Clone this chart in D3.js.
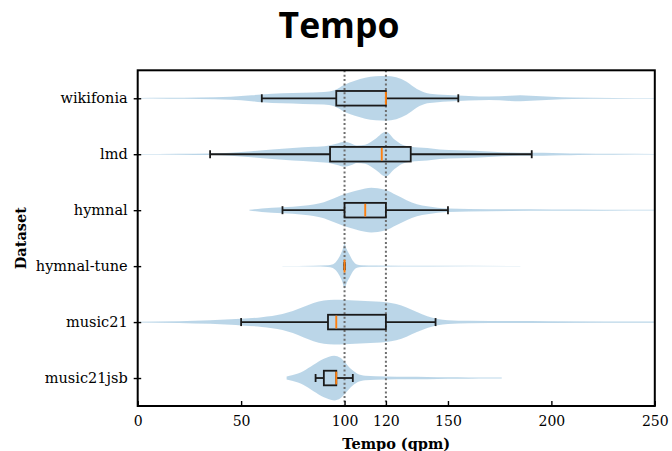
<!DOCTYPE html>
<html>
<head>
<meta charset="utf-8">
<script src="https://cdn.jsdelivr.net/npm/d3@7"></script>
<style>
  html, body { margin: 0; padding: 0; background: #fff; }
  svg { display: block; }
</style>
</head>
<body>
<svg id="chart" width="672" height="451"></svg>
<script>
// Datasets, top to bottom
const datasets = ["wikifonia", "lmd", "hymnal", "hymnal-tune", "music21", "music21jsb"];

// Box-plot statistics (qpm), same order as datasets
const whiskerLow  = [60, 35, 70, 100, 50, 86];
const quartile1   = [96, 93, 100, 100, 92, 90];
const medians     = [120, 118, 110, 100, 96, 96];
const quartile3   = [120, 132, 120, 100, 120, 96];
const whiskerHigh = [155, 190.5, 150, 100, 144, 104];

// Violin outlines: [tempo, relative density]
const densityWikifonia = [[0,0.3],[15,0.5],[30,0.8],[45,1.5],[55,3],[60,4],[70,5.2],[80,5.8],[90,6.5],[95,8.3],[100,14],[105,18],[110,21],[115,22.6],[120,23],[125,21.5],[130,17],[135,9.5],[140,5.2],[145,4],[150,3.4],[160,2.4],[170,1.8],[180,2.7],[185,3.1],[190,2.6],[200,1.5],[210,0.8],[230,0.4],[250,0.3]];
const densityLmd = [[0,0.2],[20,0.4],[35,0.8],[45,1.5],[55,3],[65,4.8],[75,6.3],[85,7.4],[92,8.5],[96,10.5],[100,12.5],[103,11],[106,8.7],[110,9.5],[115,15.5],[120,22.3],[124,15],[128,9.5],[132,7.5],[140,6.3],[146,4.8],[155,4],[163,3.4],[172,2.5],[180,1.8],[190,1.5],[196,1.4],[205,1],[213,0.7],[230,0.4],[250,0.3]];
const densityHymnal = [[54,0.3],[60,1.7],[70,3],[80,4.5],[90,8],[95,12],[100,16],[105,19],[110,21.5],[113,22.3],[116,21.8],[120,20],[125,15],[130,10],[135,6],[140,4],[145,2.5],[150,1.7],[160,1.2],[180,0.8],[200,0.6],[225,0.45],[250,0.4]];
const densityHymnalTune = [[70,0.2],[85,0.4],[92,0.8],[94,1.5],[96,4.7],[97.6,9.7],[99,16],[100,22.3],[101,17],[102.5,11],[104,5.3],[106,1.5],[108,0.8],[115,0.5],[140,0.3],[185,0.15]];
const densityMusic21 = [[0,0.3],[20,0.8],[35,1.7],[45,2.7],[50,3.3],[60,4.8],[70,8],[75,11],[80,15],[85,19],[90,21.5],[95,22.3],[100,22],[110,21],[120,19.8],[125,18],[130,14.5],[135,10],[140,5.9],[145,3.1],[150,1.8],[160,1.2],[180,1],[200,0.8],[250,0.6]];
const densityMusic21jsb = [[72,1.5],[75,3],[80,6.7],[85,13],[90,19],[95,22],[98,20],[100,16],[103,9],[106,4.5],[110,2.3],[120,1.5],[130,1.3],[140,1.1],[150,0.8],[160,0.6],[170,0.5],[176,0.5]];
const densities = [densityWikifonia, densityLmd, densityHymnal, densityHymnalTune, densityMusic21, densityMusic21jsb];

// Axis ticks and reference tempo lines
const tempoTicks = [0, 50, 100, 120, 150, 200, 250];
const refTempos = [100, 120];

const svg = d3.select("#chart");
const plot = { left: 137.7, right: 654.8, top: 70.3, bottom: 406 };

const x = d3.scaleLinear().domain([0, 250]).range([plot.left, plot.right]);
const y = d3.scalePoint().domain(datasets).range([plot.top, plot.bottom]).padding(0.5);
const halfViolin = 0.4 * y.step();
const halfBox = 7.3;
const capHalf = 4;

const serif = "'DejaVu Serif', serif";

// Title
svg.append("text")
  .attr("x", 339).attr("y", 38)
  .attr("text-anchor", "middle")
  .style("font-family", "'Open Sans', sans-serif")
  .style("font-weight", "700")
  .style("font-size", "35.5px")
  .text("Tempo");

// Violins
const violins = svg.append("g").attr("class", "violins");
datasets.forEach((name, i) => {
  const prof = densities[i];
  const w = d3.scaleLinear().domain([0, d3.max(prof, d => d[1])]).range([0, halfViolin]);
  const cy = y(name);
  const area = d3.area()
    .x(d => x(d[0]))
    .y0(d => cy - w(d[1]))
    .y1(d => cy + w(d[1]))
    .curve(d3.curveMonotoneX);
  violins.append("path")
    .datum(prof)
    .attr("d", area)
    .attr("fill", "#1f77b4")
    .attr("fill-opacity", 0.3);
});

// Reference tempo lines
svg.append("g").selectAll("line")
  .data(refTempos)
  .join("line")
  .attr("x1", d => x(d)).attr("x2", d => x(d))
  .attr("y1", plot.top).attr("y2", plot.bottom)
  .attr("stroke", "#6e6e6e")
  .attr("stroke-width", 2)
  .attr("stroke-dasharray", "2,2.4");

// Box plots
const boxes = svg.append("g").attr("class", "boxes");
datasets.forEach((name, i) => {
  const cy = y(name);
  const g = boxes.append("g");
  const stroke = "#1a1a1a";
  const sw = 1.8;
  // whiskers
  g.append("line").attr("x1", x(whiskerLow[i])).attr("x2", x(quartile1[i]))
    .attr("y1", cy).attr("y2", cy).attr("stroke", stroke).attr("stroke-width", sw);
  g.append("line").attr("x1", x(quartile3[i])).attr("x2", x(whiskerHigh[i]))
    .attr("y1", cy).attr("y2", cy).attr("stroke", stroke).attr("stroke-width", sw);
  // caps
  [whiskerLow[i], whiskerHigh[i]].forEach(v => {
    g.append("line").attr("x1", x(v)).attr("x2", x(v))
      .attr("y1", cy - capHalf).attr("y2", cy + capHalf)
      .attr("stroke", stroke).attr("stroke-width", sw);
  });
  // box
  g.append("rect")
    .attr("x", x(quartile1[i])).attr("y", cy - halfBox)
    .attr("width", x(quartile3[i]) - x(quartile1[i]))
    .attr("height", 2 * halfBox)
    .attr("fill", "none").attr("stroke", stroke).attr("stroke-width", sw);
  // median
  g.append("line").attr("x1", x(medians[i])).attr("x2", x(medians[i]))
    .attr("y1", cy - halfBox + 0.9).attr("y2", cy + halfBox - 0.9)
    .attr("stroke", "#ff7f0e").attr("stroke-width", 1.9);
});

// X axis (ticks point inward)
const xAxis = svg.append("g")
  .attr("transform", `translate(0,${plot.bottom})`)
  .call(d3.axisBottom(x).tickValues(tempoTicks).tickFormat(d3.format("d"))
    .tickSizeInner(-5).tickSizeOuter(0).tickPadding(10));
xAxis.select(".domain").remove();
xAxis.selectAll("line").attr("stroke", "#000").attr("stroke-width", 1.4);
xAxis.selectAll("text").style("font-family", serif).style("font-size", "14px").attr("fill", "#000");

// Y axis (ticks cross the spine)
const yAxis = svg.append("g")
  .attr("transform", `translate(${plot.left},0)`)
  .call(d3.axisLeft(y).tickSizeInner(4).tickSizeOuter(0).tickPadding(6));
yAxis.select(".domain").remove();
yAxis.selectAll("line").attr("x1", 3.5).attr("stroke", "#000").attr("stroke-width", 1.4);
yAxis.selectAll("text").style("font-family", serif).style("font-size", "14.5px").attr("fill", "#000");

// Frame
svg.append("rect")
  .attr("x", plot.left).attr("y", plot.top)
  .attr("width", plot.right - plot.left).attr("height", plot.bottom - plot.top)
  .attr("fill", "none").attr("stroke", "#000").attr("stroke-width", 2);

// Axis titles
svg.append("text")
  .attr("x", (plot.left + plot.right) / 2).attr("y", 449)
  .attr("text-anchor", "middle")
  .style("font-family", serif).style("font-weight", "700").style("font-size", "14.5px")
  .text("Tempo (qpm)");

svg.append("text")
  .attr("transform", `translate(26,${(plot.top + plot.bottom) / 2}) rotate(-90)`)
  .attr("text-anchor", "middle")
  .style("font-family", serif).style("font-weight", "700").style("font-size", "14.5px")
  .text("Dataset");
</script>
</body>
</html>
